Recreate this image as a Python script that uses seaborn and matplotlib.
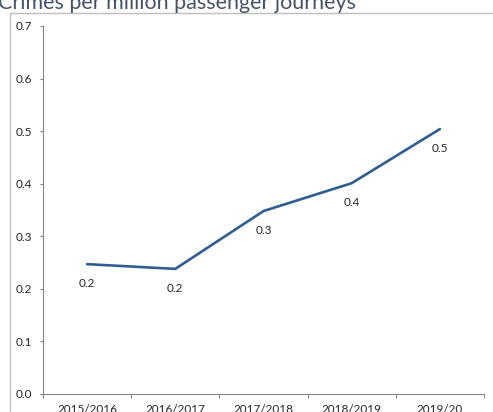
import matplotlib
matplotlib.use("Agg")
from matplotlib import pyplot as plt
from matplotlib.patches import Rectangle
import pandas as pd
import seaborn as sns

years = ["2015/2016", "2016/2017", "2017/2018", "2018/2019", "2019/20"]
crimes = [0.247, 0.238, 0.348, 0.401, 0.504]
labels = ["0.2", "0.2", "0.3", "0.4", "0.5"]

df = pd.DataFrame({"year": years, "crimes": crimes})

sns.set_style("white")
plt.rcParams["font.family"] = ["Lato", "DejaVu Sans"]

fig = plt.figure(figsize=(4.93, 4.12), dpi=100)
ax = fig.add_axes([43 / 493, 1 - 394 / 412, (484 - 43) / 493, (394 - 26) / 412])

# outer chart box (cropped)
fig.patches.append(Rectangle((10 / 493, -0.1), 1.2, 1 - 13 / 412 + 0.1,
                             transform=fig.transFigure, fill=False,
                             edgecolor="#bfbfbf", linewidth=1))

fig.text(-2 / 493, 1 - 9 / 412, "Crimes per million passenger journeys",
         fontsize=15.5, color="#44546a", va="baseline", ha="left")

sns.lineplot(data=df, x="year", y="crimes", ax=ax, color="#2e5d92",
             linewidth=1.9, sort=False)

for i, (v, lab) in enumerate(zip(crimes, labels)):
    ax.annotate(lab, (i, v), xytext=(0, -10), textcoords="offset points",
                ha="center", va="top", fontsize=8.5, color="#262626")

ax.set_xlim(-0.5, 4.5)
ax.set_ylim(0, 0.7)
ax.set_yticks([0, 0.1, 0.2, 0.3, 0.4, 0.5, 0.6, 0.7])
ax.set_yticklabels(["0.0", "0.1", "0.2", "0.3", "0.4", "0.5", "0.6", "0.7"])
ax.set_xticks(range(len(years)))
ax.set_xticklabels(years)
ax.set_xticks([-0.5, 0.5, 1.5, 2.5, 3.5, 4.5], minor=True)
ax.tick_params(axis="x", which="major", length=0, pad=7, labelsize=8.5, colors="#262626")
ax.tick_params(axis="x", which="minor", length=3, direction="out", color="#868686", width=0.8, bottom=True)
ax.tick_params(axis="y", length=2.5, direction="out", color="#868686", width=0.8, pad=5.5,
               labelsize=8.5, labelcolor="#262626", left=True)
ax.set_xlabel("")
ax.set_ylabel("")
for s in ["top", "right"]:
    ax.spines[s].set_visible(False)
for s in ["left", "bottom"]:
    ax.spines[s].set_color("#868686")
    ax.spines[s].set_linewidth(0.8)

fig.savefig("out.png", dpi=100)
